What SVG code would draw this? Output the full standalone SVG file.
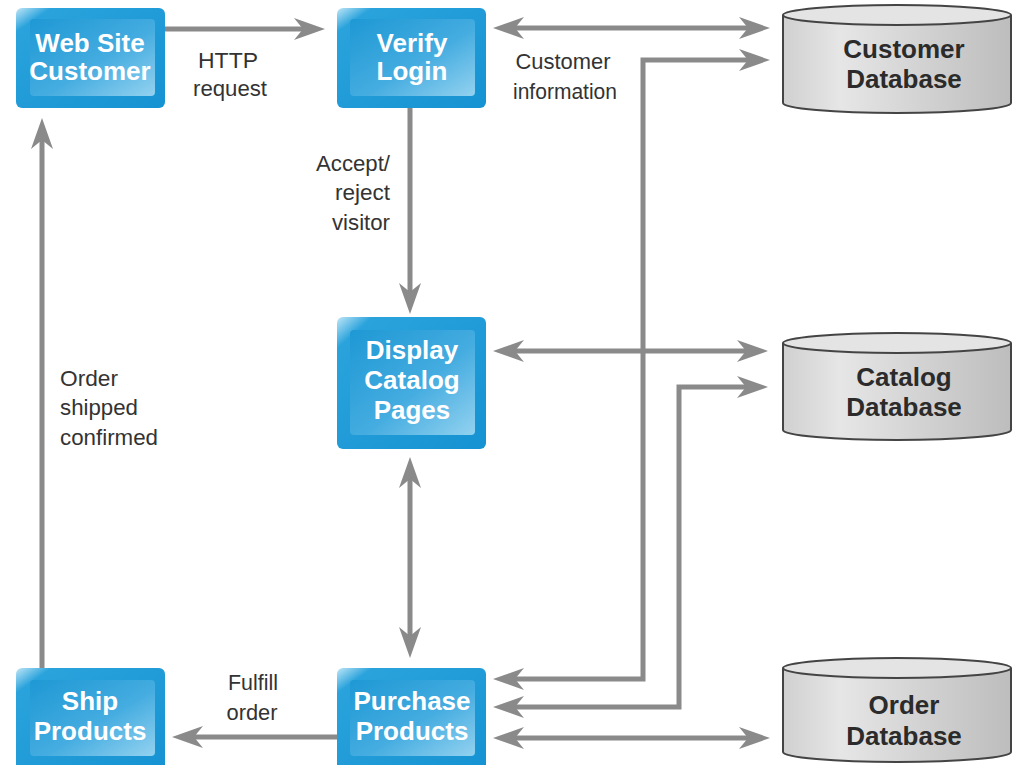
<svg xmlns="http://www.w3.org/2000/svg" width="1015" height="765" viewBox="0 0 1015 765">
<defs>
<linearGradient id="outerG" x1="0" y1="0" x2="1" y2="1">
<stop offset="0" stop-color="#bfe6f7"/>
<stop offset="0.12" stop-color="#2aa3dc"/>
<stop offset="1" stop-color="#1592d2"/>
</linearGradient>
<linearGradient id="innerG" x1="0" y1="0" x2="1" y2="1">
<stop offset="0" stop-color="#1e98d4"/>
<stop offset="0.55" stop-color="#44ace0"/>
<stop offset="1" stop-color="#93d2f0"/>
</linearGradient>
<linearGradient id="cylG" x1="0" y1="0" x2="1" y2="0">
<stop offset="0" stop-color="#d0d0d0"/>
<stop offset="0.25" stop-color="#e6e6e6"/>
<stop offset="1" stop-color="#bdbdbd"/>
</linearGradient>
<marker id="ah" viewBox="-32 -12 34 24" refX="-18" refY="0" markerWidth="34" markerHeight="24" markerUnits="userSpaceOnUse" orient="auto-start-reverse">
<path d="M0,0 L-31,-11 L-22,0 L-31,11 Z" fill="#8a8a8a"/>
</marker>
<style>
.nodeOuter{fill:url(#outerG);}
.nodeInner{fill:url(#innerG);}
.nt{font-family:"Liberation Sans",Arial,sans-serif;font-weight:bold;font-size:26px;fill:#ffffff;text-anchor:middle;}
.dbt{font-family:"Liberation Sans",Arial,sans-serif;font-weight:bold;font-size:26px;fill:#2b2b2b;text-anchor:middle;}
.lbl{font-family:"Liberation Sans",Arial,sans-serif;font-size:22px;fill:#333333;}
.cyl{fill:url(#cylG);stroke:#444;stroke-width:2;}
.cylTop{fill:#e4e4e4;stroke:#444;stroke-width:2;}
.conn{fill:none;stroke:#8a8a8a;stroke-width:5;}
.one{marker-end:url(#ah);}
.two{marker-start:url(#ah);marker-end:url(#ah);}
</style>
</defs>
<rect width="1015" height="765" fill="#ffffff"/>

<g id="connectors">
<path class="conn one" d="M165,29 H307"/>
<path class="conn two" d="M511,28 H752"/>
<path class="conn two" d="M511,679 H643 V60 H752"/>
<path class="conn two" d="M511,351 H750"/>
<path class="conn two" d="M511,707 H679 V387 H750"/>
<path class="conn two" d="M511,738 H752"/>
<path class="conn one" d="M410,108 V296"/>
<path class="conn two" d="M410,475 V640"/>
<path class="conn one" d="M42,668 V136"/>
<path class="conn one" d="M337,737 H190"/>
</g>

<g id="labels">
<text class="lbl" text-anchor="middle" x="228" y="68" textLength="60" lengthAdjust="spacingAndGlyphs">HTTP</text>
<text class="lbl" text-anchor="middle" x="230" y="96" textLength="74" lengthAdjust="spacingAndGlyphs">request</text>
<text class="lbl" text-anchor="middle" x="563" y="69" textLength="95" lengthAdjust="spacingAndGlyphs">Customer</text>
<text class="lbl" text-anchor="middle" x="565" y="99" textLength="104" lengthAdjust="spacingAndGlyphs">information</text>
<text class="lbl" text-anchor="end" x="390" y="171" textLength="74" lengthAdjust="spacingAndGlyphs">Accept/</text>
<text class="lbl" text-anchor="end" x="390" y="200" textLength="55" lengthAdjust="spacingAndGlyphs">reject</text>
<text class="lbl" text-anchor="end" x="390" y="230" textLength="58" lengthAdjust="spacingAndGlyphs">visitor</text>
<text class="lbl" x="60" y="386" textLength="58" lengthAdjust="spacingAndGlyphs">Order</text>
<text class="lbl" x="60" y="415" textLength="78" lengthAdjust="spacingAndGlyphs">shipped</text>
<text class="lbl" x="60" y="445" textLength="98" lengthAdjust="spacingAndGlyphs">confirmed</text>
<text class="lbl" text-anchor="middle" x="253" y="690" textLength="50" lengthAdjust="spacingAndGlyphs">Fulfill</text>
<text class="lbl" text-anchor="middle" x="252" y="720" textLength="51" lengthAdjust="spacingAndGlyphs">order</text>
</g>

<g id="web-site-customer">
<rect class="nodeOuter" x="16" y="8" width="149" height="100" rx="6"/>
<rect class="nodeInner" x="30" y="19" width="125" height="77" rx="4"/>
<text class="nt" x="90" y="52">Web Site</text>
<text class="nt" x="90" y="80">Customer</text>
</g>

<g id="verify-login">
<rect class="nodeOuter" x="337" y="8" width="149" height="100" rx="6"/>
<rect class="nodeInner" x="350" y="19" width="125" height="77" rx="4"/>
<text class="nt" x="412" y="52">Verify</text>
<text class="nt" x="412" y="80">Login</text>
</g>

<g id="display-catalog-pages">
<rect class="nodeOuter" x="337" y="317" width="149" height="132" rx="6"/>
<rect class="nodeInner" x="350" y="330" width="125" height="105" rx="4"/>
<text class="nt" x="412" y="359">Display</text>
<text class="nt" x="412" y="389">Catalog</text>
<text class="nt" x="412" y="419">Pages</text>
</g>

<g id="ship-products">
<rect class="nodeOuter" x="16" y="668" width="149" height="105" rx="6"/>
<rect class="nodeInner" x="30" y="680" width="125" height="76" rx="4"/>
<text class="nt" x="90" y="710">Ship</text>
<text class="nt" x="90" y="740">Products</text>
</g>

<g id="purchase-products">
<rect class="nodeOuter" x="337" y="668" width="149" height="105" rx="6"/>
<rect class="nodeInner" x="350" y="680" width="125" height="76" rx="4"/>
<text class="nt" x="412" y="710">Purchase</text>
<text class="nt" x="412" y="740">Products</text>
</g>

<g id="customer-database">
<path class="cyl" d="M783,15 V103 A114,10 0 0 0 1011,103 V15"/>
<ellipse class="cylTop" cx="897" cy="15" rx="114" ry="10"/>
<text class="dbt" x="904" y="58">Customer</text>
<text class="dbt" x="904" y="88">Database</text>
</g>

<g id="catalog-database">
<path class="cyl" d="M783,343 V430 A114,10 0 0 0 1011,430 V343"/>
<ellipse class="cylTop" cx="897" cy="343" rx="114" ry="10"/>
<text class="dbt" x="904" y="386">Catalog</text>
<text class="dbt" x="904" y="416">Database</text>
</g>

<g id="order-database">
<path class="cyl" d="M783,668 V752 A114,10 0 0 0 1011,752 V668"/>
<ellipse class="cylTop" cx="897" cy="668" rx="114" ry="10"/>
<text class="dbt" x="904" y="714">Order</text>
<text class="dbt" x="904" y="745">Database</text>
</g>
</svg>
